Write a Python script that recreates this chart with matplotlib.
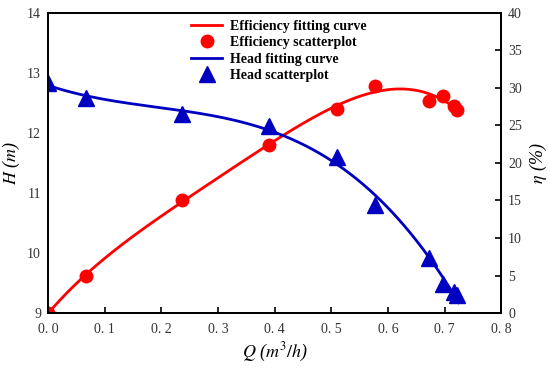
import numpy as np
import matplotlib.pyplot as plt

# measured data
q = [0.0, 0.067, 0.237, 0.39, 0.51, 0.578, 0.673, 0.697, 0.717, 0.722]
head = [12.83, 12.58, 12.32, 12.12, 11.6, 10.8, 9.92, 9.48, 9.35, 9.3]
eff = [0.0, 5.0, 15.0, 22.4, 27.2, 30.3, 28.3, 28.9, 27.6, 27.0]

xticks = [0.0, 0.1, 0.2, 0.3, 0.4, 0.5, 0.6, 0.7, 0.8]
xticklabels = ['0. 0', '0. 1', '0. 2', '0. 3', '0. 4', '0. 5', '0. 6', '0. 7', '0. 8']

plt.rcParams['font.family'] = ['Liberation Serif', 'DejaVu Serif']
plt.rcParams['mathtext.fontset'] = 'stix'

fig = plt.figure(figsize=(5.5, 3.7), dpi=100)
ax = fig.add_axes([0.0873, 0.154, 0.824, 0.811])
ax2 = ax.twinx()

# fitting curves (polynomial fit of the measured points)
qf = np.linspace(0, 0.725, 200)
h_fit = np.polyval(np.polyfit(q, head, 3), qf)
e_fit = np.polyval(np.polyfit(q, eff, 4), qf)

l1, = ax2.plot(qf, e_fit, color='#ff0000', lw=2, label='Efficiency fitting curve')
s1, = ax2.plot(q, eff, 'o', color='#ff0000', ms=9, ls='none', label='Efficiency scatterplot')
l2, = ax.plot(qf, h_fit, color='#0000c0', lw=2, label='Head fitting curve')
s2, = ax.plot(q, head, '^', color='#0000c0', ms=11, ls='none', label='Head scatterplot')

ax.set_zorder(ax2.get_zorder() + 1)
ax.patch.set_visible(False)

ax.set_xlim(0, 0.8)
ax.set_ylim(9, 14)
ax2.set_ylim(0, 40)
ax.set_xticks(xticks)
ax.set_xticklabels(xticklabels)
ax.set_yticks([9, 10, 11, 12, 13, 14])
ax2.set_yticks(range(0, 41, 5))

ax.tick_params(axis='x', direction='in', length=4, width=1.2, pad=7, labelsize=10, labelcolor='#333333')
ax.tick_params(axis='y', direction='in', length=0, pad=5, labelsize=10, labelcolor='#333333')
ax2.tick_params(axis='y', direction='in', length=4, width=1.2, pad=5, labelsize=10, labelcolor='#333333')

for a in (ax, ax2):
    for s in a.spines.values():
        s.set_linewidth(1.3)

ax.set_xlabel(r'$Q$ ($m^3/h$)', fontsize=13, style='italic', labelpad=4)
ax.set_ylabel(r'$H$ ($m$)', fontsize=13, style='italic')
ax2.set_ylabel(r'$\eta$ (%)', fontsize=13, style='italic')

ax.legend(handles=[l1, s1, l2, s2], loc='upper center', bbox_to_anchor=(0.51, 1.01),
          frameon=False, prop={'weight': 'bold', 'size': 10}, handlelength=2.2,
          handletextpad=0.6, labelspacing=0.25, borderpad=0.2)

fig.savefig('out.png', dpi=100)
